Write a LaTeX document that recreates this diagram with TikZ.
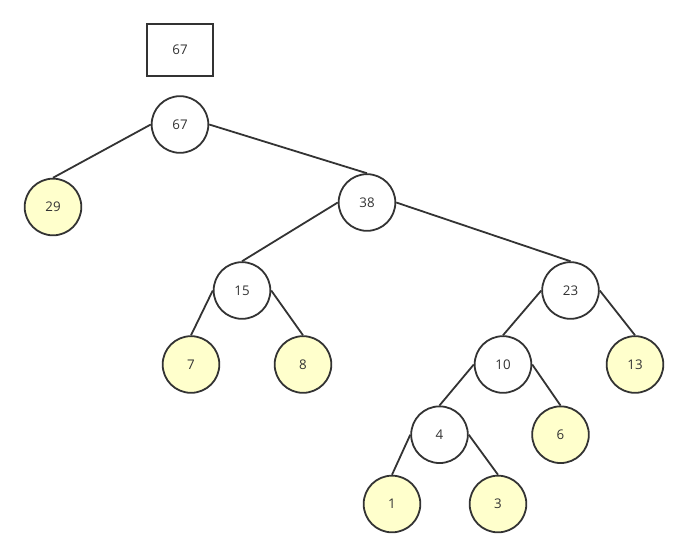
\documentclass[tikz,border=0pt]{standalone}
\usepackage{fontspec}
\setmainfont{Open Sans}
\usepackage{xcolor}
\usepackage{tikz}
\usetikzlibrary{positioning}
\definecolor{edgegray}{HTML}{333333}
\definecolor{leafyellow}{HTML}{FFFFCC}
\tikzset{
    treenode/.style={circle, draw=edgegray, line width=1.35pt, fill=white, minimum size=42.5pt, inner sep=0pt, font=\fontsize{10}{12}\selectfont, text=edgegray},
    leafnode/.style={treenode, fill=leafyellow},
    totalbox/.style={rectangle, draw=edgegray, line width=1.5pt, minimum width=50pt, minimum height=38.5pt, inner sep=0pt, font=\fontsize{10}{12}\selectfont, text=edgegray},
    branch/.style={line width=1.35pt, color=edgegray}
}

\begin{document}
\begin{tikzpicture}[x=0.75pt, y=-0.75pt]
    \useasboundingbox (0,0) rectangle (689,557);

    \node[totalbox] (total) at (180,50) {67};

    \node[treenode] (n67) at (180,124.5) {67};
    \node[leafnode] (n29) at (53,207) {29};
    \node[treenode] (n38) at (367,202.5) {38};
    \node[treenode] (n15) at (242,290.5) {15};
    \node[treenode] (n23) at (570.5,290.5) {23};
    \node[leafnode] (n7) at (191,364.5) {7};
    \node[leafnode] (n8) at (303,364.5) {8};
    \node[treenode] (n10) at (503,364.5) {10};
    \node[leafnode] (n13) at (635,364.5) {13};
    \node[treenode] (n4) at (439.5,434.7) {4};
    \node[leafnode] (n6) at (560.5,434.7) {6};
    \node[leafnode] (n1) at (392,504) {1};
    \node[leafnode] (n3) at (498,504) {3};

    \draw[branch] (n67.west) -- (n29.north);
    \draw[branch] (n67.east) -- (n38.north);
    \draw[branch] (n38.west) -- (n15.north);
    \draw[branch] (n38.east) -- (n23.north);
    \draw[branch] (n15.west) -- (n7.north);
    \draw[branch] (n15.east) -- (n8.north);
    \draw[branch] (n23.west) -- (n10.north);
    \draw[branch] (n23.east) -- (n13.north);
    \draw[branch] (n10.west) -- (n4.north);
    \draw[branch] (n10.east) -- (n6.north);
    \draw[branch] (n4.west) -- (n1.north);
    \draw[branch] (n4.east) -- (n3.north);
\end{tikzpicture}
\end{document}
